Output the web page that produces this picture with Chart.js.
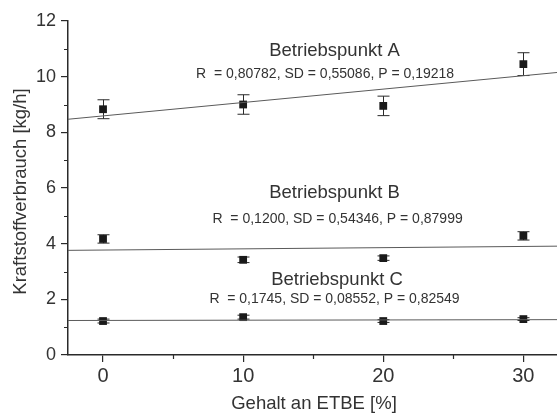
<!DOCTYPE html>
<html>
<head>
<meta charset="utf-8">
<script src="https://cdn.jsdelivr.net/npm/chart.js@4.4.0/dist/chart.umd.min.js"></script>
<style>
  html, body { margin: 0; padding: 0; background: #fff; overflow: hidden; }
  #wrap { width: 557px; height: 414px; }
  canvas { display: block; }
</style>
</head>
<body>
<div id="wrap"><canvas id="chart" width="557" height="414"></canvas></div>
<script>
// ETBE content [%]
const etbe = [0, 10, 20, 30];

// fuel consumption [kg/h] and standard deviation per operating point
const meanA = [8.83, 9.00, 8.95, 10.45];
const errA = [0.34, 0.35, 0.35, 0.41];
const meanB = [4.17, 3.42, 3.48, 4.28];
const errB = [0.15, 0.10, 0.08, 0.15];
const meanC = [1.22, 1.36, 1.22, 1.29];
const errC = [0.07, 0.07, 0.05, 0.05];

// linear fits, read at the ends of the x range
const fitX = [-2.5, 32.4];
const fitA = [8.47, 10.15];
const fitB = [3.76, 3.91];
const fitC = [1.24, 1.27];

const xTicks = [0, 10, 20, 30];
const yTicks = [0, 2, 4, 6, 8, 10, 12];
const xMinor = [5, 15, 25];
const yMinor = [1, 3, 5, 7, 9, 11];

const groupTitles = ['Betriebspunkt A', 'Betriebspunkt B', 'Betriebspunkt C'];
const groupStats = [
  'R  = 0,80782, SD = 0,55086, P = 0,19218',
  'R  = 0,1200, SD = 0,54346, P = 0,87999',
  'R  = 0,1745, SD = 0,08552, P = 0,82549'
];

// where the annotations sit, in data units
const titlePos = [[16.52, 10.92], [16.52, 5.84], [16.70, 2.69]];
const statsPos = [[15.85, 10.10], [16.74, 4.89], [16.52, 2.01]];

const INK = '#2a2a2a';
const TEXT = '#333';
const FONT = '"Liberation Sans", Arial, sans-serif';

function pts(ys) {
  return ys.map((y, i) => ({ x: etbe[i], y: y }));
}
function fit(ys) {
  return ys.map((y, i) => ({ x: fitX[i], y: y }));
}

/**
 * error bars, minor ticks, axis titles and text labels
 */
const extras = {
  id: 'extras',
  beforeDatasetsDraw(chart) {
    const ctx = chart.ctx;
    const xs = chart.scales.x, ys = chart.scales.y;
    ctx.save();
    ctx.strokeStyle = INK;
    ctx.lineWidth = 1;
    [[meanA, errA], [meanB, errB], [meanC, errC]].forEach(([m, e]) => {
      m.forEach((v, i) => {
        const px = Math.round(xs.getPixelForValue(etbe[i])) + 0.5;
        const top = ys.getPixelForValue(v + e[i]);
        const bot = ys.getPixelForValue(v - e[i]);
        ctx.beginPath();
        ctx.moveTo(px, top); ctx.lineTo(px, bot);
        ctx.moveTo(px - 6, top); ctx.lineTo(px + 6, top);
        ctx.moveTo(px - 6, bot); ctx.lineTo(px + 6, bot);
        ctx.stroke();
      });
    });
    ctx.restore();
  },
  afterDraw(chart) {
    const ctx = chart.ctx;
    const xs = chart.scales.x, ys = chart.scales.y;
    const area = chart.chartArea;
    ctx.save();
    ctx.strokeStyle = INK;
    ctx.lineWidth = 1.2;
    ctx.beginPath();
    xMinor.forEach(v => {
      const px = Math.round(xs.getPixelForValue(v)) + 0.5;
      ctx.moveTo(px, area.bottom); ctx.lineTo(px, area.bottom + 4);
    });
    yMinor.forEach(v => {
      const py = Math.round(ys.getPixelForValue(v)) + 0.5;
      ctx.moveTo(area.left, py); ctx.lineTo(area.left - 4, py);
    });
    ctx.stroke();

    ctx.fillStyle = TEXT;
    ctx.textAlign = 'center';
    ctx.textBaseline = 'middle';
    groupTitles.forEach((t, i) => {
      ctx.font = '18.5px ' + FONT;
      ctx.fillText(t, xs.getPixelForValue(titlePos[i][0]), ys.getPixelForValue(titlePos[i][1]));
      ctx.font = '14px ' + FONT;
      ctx.fillText(groupStats[i], xs.getPixelForValue(statsPos[i][0]), ys.getPixelForValue(statsPos[i][1]));
    });

    // axis titles
    ctx.font = '18.5px ' + FONT;
    ctx.textBaseline = 'alphabetic';
    ctx.fillText('Gehalt an ETBE [%]', 314, 409);
    ctx.translate(26, 191.5);
    ctx.rotate(-Math.PI / 2);
    ctx.fillText('Kraftstoffverbrauch [kg/h]', 0, 0);
    ctx.restore();
  }
};

const markerStyle = {
  showLine: false,
  pointStyle: 'rect',
  pointRadius: 5.5,
  pointBackgroundColor: '#1a1a1a',
  pointBorderColor: '#1a1a1a',
  pointBorderWidth: 0
};
const lineStyle = {
  showLine: true,
  pointRadius: 0,
  borderColor: '#5a5a5a',
  borderWidth: 1
};

new Chart(document.getElementById('chart'), {
  type: 'scatter',
  data: {
    datasets: [
      { label: 'fit A', data: fit(fitA), ...lineStyle },
      { label: 'fit B', data: fit(fitB), ...lineStyle },
      { label: 'fit C', data: fit(fitC), ...lineStyle },
      { label: 'A', data: pts(meanA), ...markerStyle },
      { label: 'B', data: pts(meanB), ...markerStyle },
      { label: 'C', data: pts(meanC), ...markerStyle }
    ]
  },
  options: {
    responsive: false,
    animation: false,
    layout: { autoPadding: false, padding: { top: 21, right: 0, left: 0, bottom: 0 } },
    plugins: { legend: { display: false }, tooltip: { enabled: false } },
    scales: {
      x: {
        type: 'linear',
        min: -2.5,
        max: 32.4,
        afterBuildTicks: s => { s.ticks = xTicks.map(v => ({ value: v })); },
        afterFit: s => { s.height = 59; s.paddingRight = 0; s.paddingLeft = 0; },
        grid: { display: true, drawOnChartArea: false, drawTicks: true, tickLength: 7, color: INK, lineWidth: 1.2 },
        border: { display: true, color: INK, width: 1.5 },
        ticks: { color: TEXT, font: { family: FONT, size: 20 }, padding: 2, maxRotation: 0 }
      },
      y: {
        type: 'linear',
        min: 0,
        max: 12,
        afterBuildTicks: s => { s.ticks = yTicks.map(v => ({ value: v })); },
        afterFit: s => { s.width = 68; s.paddingTop = 0; s.paddingBottom = 0; },
        grid: { display: true, drawOnChartArea: false, drawTicks: true, tickLength: 7, color: INK, lineWidth: 1.2 },
        border: { display: true, color: INK, width: 1.5 },
        ticks: { color: TEXT, font: { family: FONT, size: 18 }, padding: 5 }
      }
    }
  },
  plugins: [extras]
});
</script>
</body>
</html>
